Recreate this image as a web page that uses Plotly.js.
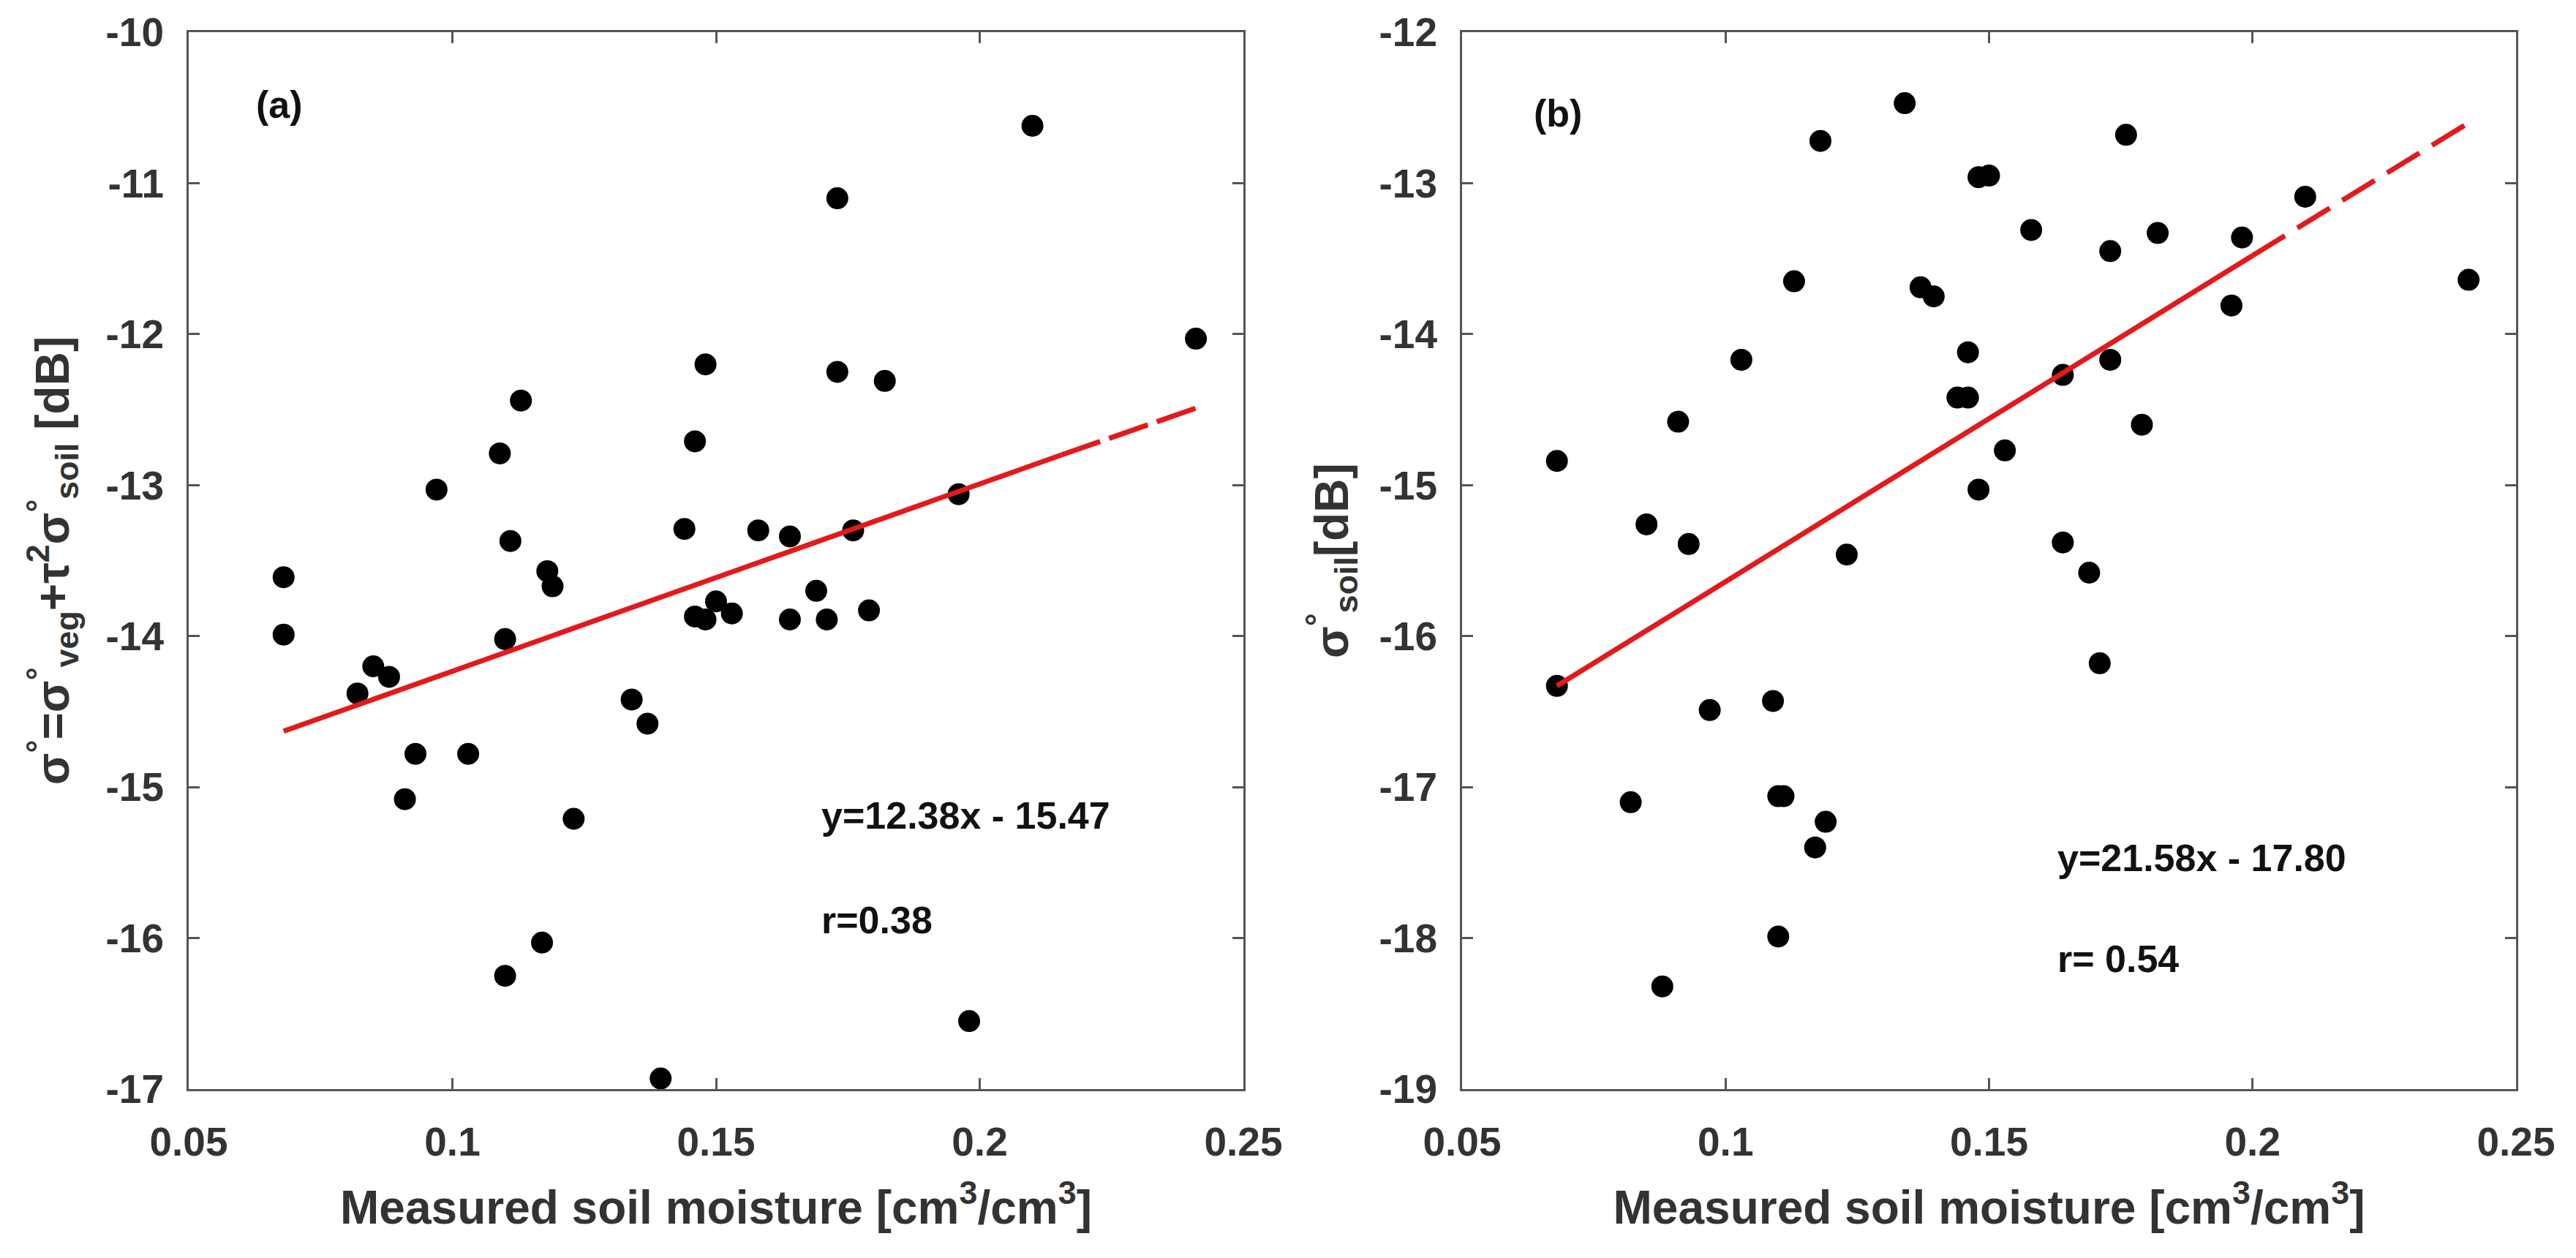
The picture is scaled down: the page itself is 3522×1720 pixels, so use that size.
<!DOCTYPE html>
<html>
<head>
<meta charset="utf-8">
<script src="https://cdn.plot.ly/plotly-3.0.1.min.js"></script>
<style>html,body{margin:0;padding:0;background:#fff;}#chart{width:3522px;height:1720px;}</style>
</head>
<body>
<div id="chart"></div>
<script>
// Measured soil moisture [cm3/cm3] (shared by both panels)
const soilMoisture = [0.068, 0.068, 0.082, 0.085, 0.088, 0.091, 0.093, 0.097, 0.103, 0.109,
  0.110, 0.110, 0.111, 0.113, 0.117, 0.118, 0.119, 0.123, 0.134, 0.137,
  0.1395, 0.144, 0.146, 0.146, 0.148, 0.148, 0.150, 0.153, 0.158, 0.164,
  0.164, 0.169, 0.171, 0.173, 0.173, 0.176, 0.179, 0.182, 0.196, 0.198,
  0.210, 0.241];
// Panel (a): total backscatter sigma0 [dB]
const sigmaTotal = [-13.61, -13.99, -14.38, -14.20, -14.27, -15.08, -14.78, -13.03, -14.78, -12.79,
  -14.02, -16.25, -13.37, -12.44, -16.03, -13.57, -13.67, -15.21, -14.42, -14.58,
  -16.93, -13.29, -12.71, -13.87, -12.20, -13.89, -13.77, -13.85, -13.30, -13.34,
  -13.89, -13.70, -13.89, -11.10, -12.25, -13.30, -13.83, -12.31, -13.06, -16.55,
  -10.62, -12.03];
// Panel (b): soil backscatter sigma0_soil [dB]
const sigmaSoil = [-14.84, -16.33, -17.10, -15.26, -18.32, -14.58, -15.39, -16.49, -14.17, -16.43,
  -17.06, -17.99, -17.06, -13.65, -17.40, -12.72, -17.23, -15.46, -12.47, -13.69,
  -13.75, -14.42, -14.42, -14.12, -12.96, -15.03, -12.95, -14.77, -13.31, -14.27,
  -15.38, -15.58, -16.18, -13.45, -14.17, -12.68, -14.60, -13.33, -13.81, -13.36,
  -13.09, -13.64];
// Regression lines: solid part then dashed part
const fitA_x = [0.068, 0.2155, 0.241];
const fitA_y = [-14.63, -12.80, -12.49];
const fitB_x = [0.068, 0.200, 0.241];
const fitB_y = [-16.33, -13.48, -12.60];
// Texts
const xTickVals = [0.05, 0.1, 0.15, 0.2, 0.25];
const xTickText = ['0.05', '0.1', '0.15', '0.2', '0.25'];
const yTickA = [-17, -16, -15, -14, -13, -12, -11, -10];
const yTickB = [-19, -18, -17, -16, -15, -14, -13, -12];
const eqA = 'y=12.38x - 15.47', rA = 'r=0.38';
const eqB = 'y=21.58x - 17.80', rB = 'r= 0.54';

const RED = '#e3191c';
const AX = '#555555';
const TXT = '#333333';
const FONT = 'Liberation Sans, Arial, Helvetica, sans-serif';

const traces = [
  {x: soilMoisture, y: sigmaTotal, xaxis: 'x', yaxis: 'y', type: 'scatter', mode: 'markers',
   marker: {color: '#000', size: 30}},
  {x: fitA_x.slice(0, 2), y: fitA_y.slice(0, 2), xaxis: 'x', yaxis: 'y', type: 'scatter', mode: 'lines',
   line: {color: RED, width: 7}},
  {x: fitA_x.slice(1), y: fitA_y.slice(1), xaxis: 'x', yaxis: 'y', type: 'scatter', mode: 'lines',
   line: {color: RED, width: 7, dash: '56px,13px'}},
  {x: soilMoisture, y: sigmaSoil, xaxis: 'x2', yaxis: 'y2', type: 'scatter', mode: 'markers',
   marker: {color: '#000', size: 30}},
  {x: fitB_x.slice(0, 2), y: fitB_y.slice(0, 2), xaxis: 'x2', yaxis: 'y2', type: 'scatter', mode: 'lines',
   line: {color: RED, width: 7}},
  {x: fitB_x.slice(1), y: fitB_y.slice(1), xaxis: 'x2', yaxis: 'y2', type: 'scatter', mode: 'lines',
   line: {color: RED, width: 7, dash: '52px,20px'}}
];

function xAxis(domain, anchor) {
  return {
    domain: domain, anchor: anchor, range: [0.05, 0.25],
    tickmode: 'array', tickvals: xTickVals, ticktext: xTickText,
    ticks: 'inside', ticklen: 15, tickwidth: 3, tickcolor: AX,
    showline: true, linecolor: AX, linewidth: 3, mirror: 'ticks',
    showgrid: false, zeroline: false, automargin: false,
    tickfont: {family: FONT, size: 55, color: TXT, weight: 'bold'},
    ticklabelstandoff: 22,
    title: {text: 'Measured soil moisture [cm<sup>3</sup>/cm<sup>3</sup>]',
            font: {family: FONT, size: 64, color: TXT, weight: 'bold'}, standoff: 38}
  };
}
function yAxis(range, tickvals, anchor, titleText, standoff) {
  return {
    domain: [1 - 1489 / 1720, 1 - 44 / 1720], anchor: anchor, range: range,
    tickmode: 'array', tickvals: tickvals, ticktext: tickvals.map(String),
    ticks: 'inside', ticklen: 15, tickwidth: 3, tickcolor: AX,
    showline: true, linecolor: AX, linewidth: 3, mirror: 'ticks',
    showgrid: false, zeroline: false, automargin: false,
    tickfont: {family: FONT, size: 55, color: TXT, weight: 'bold'},
    ticklabelstandoff: 20,
    title: {text: titleText, font: {family: FONT, size: 64, color: TXT, weight: 'bold'}, standoff: standoff}
  };
}

const annFont = {family: FONT, size: 52, color: '#111', weight: 'bold'};
const layout = {
  width: 3522, height: 1720,
  margin: {l: 0, r: 0, t: 0, b: 0},
  paper_bgcolor: '#fff', plot_bgcolor: '#fff',
  showlegend: false,
  xaxis: xAxis([258 / 3522, 1700 / 3522], 'y'),
  yaxis: yAxis([-17, -10], yTickA, 'x',
    'σ<sup>°</sup>=σ<sup>°</sup><sub>veg</sub>+τ<sup>2</sup>σ<sup>°</sup><sub>soil</sub> [dB]', 30),
  xaxis2: xAxis([1999 / 3522, 3440 / 3522], 'y2'),
  yaxis2: yAxis([-19, -12], yTickB, 'x2', 'σ<sup>°</sup><sub>soil</sub>[dB]', 22),
  annotations: [
    {xref: 'x', yref: 'y', x: 0.0672, y: -10.48, text: '(a)', showarrow: false, font: annFont},
    {xref: 'x', yref: 'y', x: 0.1697, y: -15.19, text: eqA, showarrow: false, xanchor: 'left', font: annFont},
    {xref: 'x', yref: 'y', x: 0.1697, y: -15.88, text: rA, showarrow: false, xanchor: 'left', font: annFont},
    {xref: 'x2', yref: 'y2', x: 0.0682, y: -12.54, text: '(b)', showarrow: false, font: annFont},
    {xref: 'x2', yref: 'y2', x: 0.1627, y: -17.47, text: eqB, showarrow: false, xanchor: 'left', font: annFont},
    {xref: 'x2', yref: 'y2', x: 0.1627, y: -18.14, text: rB, showarrow: false, xanchor: 'left', font: annFont}
  ]
};

Plotly.newPlot('chart', traces, layout, {staticPlot: true, displayModeBar: false});
</script>
</body>
</html>
